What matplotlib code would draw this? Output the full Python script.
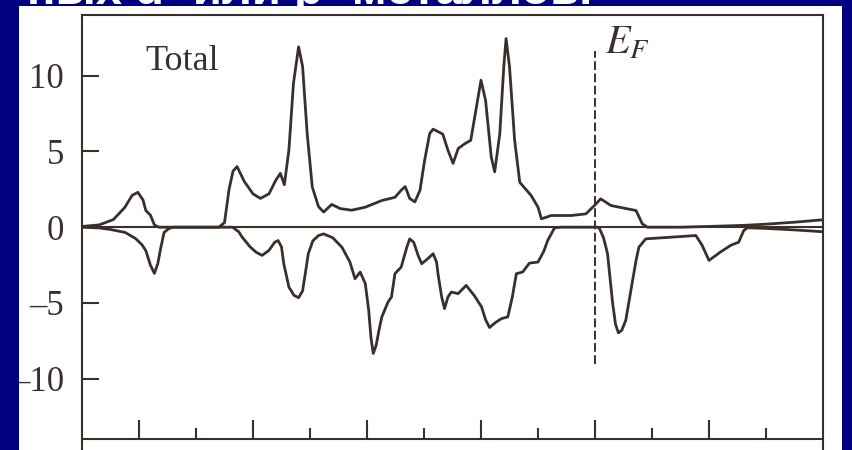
import numpy as np
import matplotlib
matplotlib.use('Agg')
import matplotlib.pyplot as plt
from matplotlib.patches import Rectangle

# energy (eV, relative to E_F) and DOS for spin-up (upper) curve
up_e = [-9.0, -8.7, -8.45, -8.25, -8.12, -8.02, -7.93, -7.88, -7.8, -7.73, -7.65,
        -6.6, -6.5, -6.42, -6.35, -6.28, -6.15, -6.0, -5.87, -5.72, -5.6, -5.52, -5.45,
        -5.37, -5.29, -5.2, -5.13, -5.05, -4.96, -4.85, -4.76, -4.62, -4.47, -4.27,
        -4.03, -3.74, -3.51, -3.4, -3.33, -3.25, -3.16, -3.07, -2.99, -2.9, -2.84,
        -2.67, -2.58, -2.49, -2.4, -2.28, -2.18, -2.08, -2.0, -1.92, -1.82, -1.76,
        -1.67, -1.6, -1.56, -1.5, -1.41, -1.32, -1.12, -1.0, -0.94, -0.77, -0.42,
        -0.16, -0.01, 0.10, 0.28, 0.57, 0.72, 0.83, 0.92, 1.5, 2.0, 2.6, 3.0, 3.5, 4.0]
up_dos = [0.05, 0.15, 0.5, 1.3, 2.1, 2.3, 1.8, 1.1, 0.8, 0.15, 0.0,
          0.0, 0.3, 2.5, 3.7, 4.0, 3.0, 2.2, 1.9, 2.2, 3.1, 3.55, 2.8,
          5.1, 9.5, 11.9, 10.6, 6.2, 2.65, 1.35, 1.0, 1.5, 1.23, 1.12,
          1.32, 1.76, 1.97, 2.44, 2.68, 1.89, 1.67, 2.44, 4.39, 6.18, 6.47,
          6.14, 5.08, 4.21, 5.19, 5.52, 5.73, 7.93, 9.7, 8.37, 4.63, 3.65,
          6.18, 10.6, 12.45, 10.6, 5.74, 2.96, 2.09, 1.32, 0.55, 0.77, 0.77,
          0.88, 1.43, 1.87, 1.43, 1.21, 1.1, 0.22, 0.0, 0.0, 0.05, 0.12, 0.2, 0.33, 0.49]

# spin-down (lower) curve
dn_e = [-9.0, -8.7, -8.5, -8.24, -8.06, -7.95, -7.88, -7.8, -7.73, -7.67, -7.62,
        -7.56, -7.48, -7.4, -6.36, -6.25, -6.19, -6.05, -5.95, -5.84, -5.72, -5.62,
        -5.56, -5.5, -5.46, -5.37, -5.28, -5.2, -5.13, -5.08, -5.03, -4.95, -4.85,
        -4.76, -4.6, -4.44, -4.3, -4.21, -4.12, -4.03, -3.97, -3.93, -3.89, -3.84,
        -3.79, -3.74, -3.63, -3.57, -3.51, -3.4, -3.3, -3.25, -3.18, -3.1, -3.04,
        -2.94, -2.84, -2.78, -2.75, -2.69, -2.64, -2.58, -2.52, -2.4, -2.26, -2.12,
        -1.99, -1.92, -1.85, -1.75, -1.64, -1.53, -1.45, -1.38, -1.27, -1.15, -1.0,
        -0.9, -0.83, -0.71, -0.6, 0.05, 0.08, 0.15, 0.22, 0.31, 0.36, 0.41, 0.47,
        0.54, 0.66, 0.72, 0.77, 0.89, 1.33, 1.77, 1.88, 2.0, 2.2, 2.38, 2.52, 2.61,
        2.67, 3.0, 3.5, 4.0]
dn_dos = [0.0, -0.05, -0.15, -0.35, -0.75, -1.15, -1.55, -2.5, -3.05, -2.4, -1.4,
          -0.35, -0.1, 0.0, 0.0, -0.3, -0.66, -1.3, -1.64, -1.86, -1.53, -1.0,
          -0.88, -1.3, -2.41, -3.95, -4.5, -4.65, -4.2, -3.0, -1.75, -0.9, -0.55,
          -0.44, -0.7, -1.32, -2.3, -3.4, -2.96, -3.72, -5.5, -7.3, -8.33, -7.8,
          -6.8, -5.92, -4.93, -4.6, -3.07, -2.63, -1.3, -0.77, -1.0, -1.9, -2.41,
          -2.1, -1.75, -2.3, -3.18, -4.6, -5.37, -4.6, -4.28, -4.38, -3.84, -4.5,
          -5.26, -6.1, -6.62, -6.3, -6.03, -5.92, -4.6, -3.07, -2.96, -2.37, -2.3,
          -1.6, -0.88, -0.04, 0.0, 0.0, -0.1, -0.7, -1.75, -5.04, -6.4, -6.97, -6.8,
          -6.14, -3.5, -2.2, -1.32, -0.77, -0.66, -0.55, -1.2, -2.19, -1.64, -1.2, -0.99, -0.22,
          -0.04, -0.08, -0.18, -0.3]

EF = 0.0
ef_span = [-9.0, 11.6]
yticks = [-10, -5, 0, 5, 10]
ytick_labels = ['\u201310', '\u20135', '0', '5', '10']
major_x = [-8, -6, -4, -2, 0, 2]
minor_x = [-7, -5, -3, -1, 1, 3]

ink = '#3a2f2b'
navy = '#000080'
plt.rcParams['mathtext.fontset'] = 'stix'

fig = plt.figure(figsize=(8.53, 4.5), dpi=100)
fig.patch.set_facecolor(navy)

# slide title, mostly cut off above
fig.text(592 / 853, 1 - 4 / 450, 'ных d- или p- металлов.', color='white',
         fontsize=34, fontweight='bold', family='Liberation Sans',
         ha='right', va='baseline', zorder=0.5)
fig.patches.append(Rectangle((19 / 853, 0), 823 / 853, 444 / 450,
                             transform=fig.transFigure, facecolor='white',
                             edgecolor='none', zorder=1))

ax = fig.add_axes([82 / 853, 0, 741 / 853, 435 / 450])
ax.set_zorder(2)
ax.plot(up_e, up_dos, color=ink, lw=2.0, solid_joinstyle='round')
ax.plot(dn_e, dn_dos, color=ink, lw=2.0, solid_joinstyle='round')
ax.axhline(0, color=ink, lw=1.5)
ax.vlines(EF, ef_span[0], ef_span[1], color=ink, lw=1.4, linestyles=(0, (4.5, 1.8)))
ax.text(0.17, 13.5, r'$E_F$', fontsize=29, color=ink, va='top', ha='left')
ax.text(-7.88, 10.35, 'Total', fontsize=26, color=ink, family='Liberation Serif',
        va='baseline', ha='left')

ax.set_xlim(-9, 4)
ax.set_ylim(-14.7, 14)
for s in ax.spines.values():
    s.set_color(ink)
    s.set_linewidth(1.5)
ax.spines['bottom'].set_position(('data', -14))

ax.set_xticks(major_x)
ax.set_xticks(minor_x, minor=True)
ax.tick_params(axis='x', which='major', direction='in', length=13.5, width=1.5,
               color=ink, labelbottom=False)
ax.tick_params(axis='x', which='minor', direction='in', length=8, width=1.5,
               color=ink)
ax.set_yticks(yticks)
ax.set_yticklabels(ytick_labels, family='Liberation Serif', fontsize=25, color=ink)
ax.tick_params(axis='y', direction='in', length=12, width=1.5, color=ink, pad=13)

# blue strip on the left hides part of the lowest label
fig.patches.append(Rectangle((0, 0), 19 / 853, 1, transform=fig.transFigure,
                             facecolor=navy, edgecolor='none', zorder=3))

fig.savefig('out.png', dpi=100, facecolor=navy)
